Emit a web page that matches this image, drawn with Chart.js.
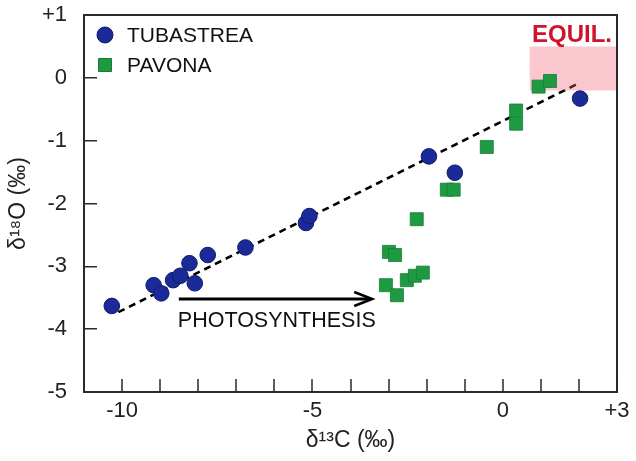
<!DOCTYPE html>
<html>
<head>
<meta charset="utf-8">
<script src="https://cdn.jsdelivr.net/npm/chart.js@4/dist/chart.umd.min.js"></script>
<style>
  body { margin: 0; background: #fff; }
  #wrap { width: 636px; height: 461px; }
</style>
</head>
<body>
<div id="wrap"><canvas id="isoChart" width="636" height="461"></canvas></div>
<script>
const FONT = "'Liberation Sans', Arial, Helvetica, sans-serif";

// coral skeleton isotopes, delta13C vs delta18O (per mil)
const tubastreaC = [-10.27, -9.17, -8.97, -8.66, -8.47, -8.23, -8.09, -7.75, -6.76, -5.17, -5.08, -1.94, -1.26, 2.03];
const tubastreaO = [-3.63, -3.30, -3.43, -3.22, -3.15, -2.95, -3.27, -2.82, -2.70, -2.31, -2.20, -1.25, -1.51, -0.33];
const pavonaC = [-3.07, -2.99, -2.83, -2.78, -2.52, -2.31, -2.26, -2.10, -1.47, -1.29, -0.42, 0.35, 0.35, 0.94, 1.24];
const pavonaO = [-3.30, -2.77, -2.82, -3.46, -3.22, -3.15, -2.25, -3.10, -1.78, -1.78, -1.10, -0.73, -0.52, -0.14, -0.05];

// kinetic trend line and the equilibrium field
const trendC = [-10.1, 1.95];
const trendO = [-3.73, -0.10];
const equilC = [0.7, 3];
const equilO = [-0.2, 0.5];

// photosynthesis arrow (start, end)
const arrowC = [-8.51, -3.43];
const arrowO = -3.52;

const xLabelled = [-10, -5, 0, 3];

const blue = 'rgb(26, 42, 152)';
const green = 'rgb(30, 155, 66)';
const axisColor = '#2b2b2b';

function pts(xs, ys) {
    return xs.map((x, i) => ({ x: x, y: ys[i] }));
}

function signed(v) {
    return v > 0 ? '+' + v : '' + v;
}

const frameSide = { display: true, color: axisColor, width: 2 };

const extras = {
    id: 'extras',
    afterDatasetsDraw(chart) {
        const ctx = chart.ctx;
        const xs = chart.scales.x;
        const ys = chart.scales.y;
        const a = chart.chartArea;
        ctx.save();

        // top and right edges of the frame
        ctx.strokeStyle = axisColor;
        ctx.lineWidth = 2;
        ctx.beginPath();
        ctx.moveTo(a.left, a.top);
        ctx.lineTo(a.right, a.top);
        ctx.lineTo(a.right, a.bottom);
        ctx.stroke();

        // x ticks pointing up into the plot
        ctx.lineWidth = 1.5;
        ctx.beginPath();
        xs.ticks.forEach(t => {
            const px = Math.round(xs.getPixelForValue(t.value));
            ctx.moveTo(px, a.bottom);
            ctx.lineTo(px, a.bottom - 13);
        });
        ctx.stroke();

        // EQUIL. label above the box
        ctx.fillStyle = '#d0122c';
        ctx.font = 'bold 24px ' + FONT;
        ctx.textAlign = 'right';
        ctx.textBaseline = 'alphabetic';
        ctx.fillText('EQUIL.', xs.getPixelForValue(equilC[1]) - 5, ys.getPixelForValue(equilO[1]) - 4);

        // photosynthesis arrow
        const x0 = xs.getPixelForValue(arrowC[0]);
        const x1 = xs.getPixelForValue(arrowC[1]);
        const y0 = ys.getPixelForValue(arrowO);
        ctx.strokeStyle = '#000';
        ctx.lineWidth = 3;
        ctx.beginPath();
        ctx.moveTo(x0, y0);
        ctx.lineTo(x1 - 1, y0);
        ctx.stroke();
        ctx.lineWidth = 2.5;
        ctx.beginPath();
        ctx.moveTo(x1 - 18, y0 - 7);
        ctx.lineTo(x1, y0);
        ctx.lineTo(x1 - 18, y0 + 7);
        ctx.stroke();
        ctx.fillStyle = '#111';
        ctx.font = '21.5px ' + FONT;
        ctx.textAlign = 'left';
        ctx.textBaseline = 'middle';
        ctx.fillText('PHOTOSYNTHESIS', x0 - 1, y0 + 22);

        // legend in the upper left corner
        const items = chart.data.datasets.filter(d => d.label);
        items.forEach((d, i) => {
            const cy = a.top + 20 + i * 30;
            const cx = a.left + 21;
            ctx.fillStyle = d.backgroundColor;
            ctx.strokeStyle = d.borderColor;
            ctx.lineWidth = 1;
            ctx.beginPath();
            if (d.pointStyle === 'rect') {
                ctx.rect(cx - 6.5, cy - 6.5, 13, 13);
            } else {
                ctx.arc(cx, cy, 8, 0, Math.PI * 2);
            }
            ctx.fill();
            ctx.stroke();
            ctx.fillStyle = '#111';
            ctx.font = '21px ' + FONT;
            ctx.textAlign = 'left';
            ctx.textBaseline = 'middle';
            ctx.fillText(d.label, a.left + 43, cy + 1);
        });
        ctx.restore();
    }
};

new Chart(document.getElementById('isoChart'), {
    type: 'scatter',
    data: {
        datasets: [
            {
                label: 'TUBASTREA',
                data: pts(tubastreaC, tubastreaO),
                pointStyle: 'circle',
                pointRadius: 7.8,
                backgroundColor: blue,
                borderColor: 'rgb(16, 26, 105)',
                borderWidth: 1,
                clip: false,
                order: 0
            },
            {
                label: 'PAVONA',
                data: pts(pavonaC, pavonaO),
                pointStyle: 'rect',
                pointRadius: 9.2,
                backgroundColor: green,
                borderColor: 'rgb(22, 125, 52)',
                borderWidth: 0.8,
                clip: false,
                order: 1
            },
            {
                type: 'line',
                data: pts(equilC, [equilO[1], equilO[1]]),
                fill: { value: equilO[0] },
                backgroundColor: 'rgba(236, 92, 108, 0.34)',
                borderWidth: 0,
                pointRadius: 0,
                order: 2
            },
            {
                type: 'line',
                data: pts(trendC, trendO),
                borderColor: '#000',
                borderWidth: 2.6,
                borderDash: [7, 5],
                pointRadius: 0,
                fill: false,
                order: 3
            }
        ]
    },
    options: {
        responsive: false,
        animation: false,
        layout: { padding: { left: 0, right: 19, top: 15, bottom: 0 } },
        plugins: {
            legend: { display: false },
            tooltip: { enabled: false }
        },
        scales: {
            x: {
                type: 'linear',
                position: 'bottom',
                min: -11,
                max: 3,
                grid: { display: true, drawOnChartArea: false, drawTicks: false },
                border: frameSide,
                ticks: {
                    stepSize: 1,
                    padding: 6,
                    color: '#222',
                    font: { family: FONT, size: 22 },
                    maxRotation: 0,
                    autoSkip: false,
                    callback: v => xLabelled.includes(v) ? signed(v) : ''
                },
                title: {
                    display: true,
                    text: 'δ¹³C (‰)',
                    color: '#222',
                    font: { family: FONT, size: 23 },
                    padding: { top: 0, bottom: 7 }
                },
                afterFit: s => { s.height = 69; }
            },
            y: {
                type: 'linear',
                position: 'left',
                min: -5,
                max: 1,
                // negative tick length turns the marks inward; padding makes up for it
                grid: { display: true, drawOnChartArea: false, drawTicks: true, tickLength: -13, color: axisColor, lineWidth: 1.5 },
                border: frameSide,
                ticks: {
                    stepSize: 1,
                    padding: 30,
                    color: '#222',
                    font: { family: FONT, size: 22 },
                    callback: v => signed(v)
                },
                title: {
                    display: true,
                    text: 'δ¹⁸O (‰)',
                    color: '#222',
                    font: { family: FONT, size: 23 },
                    padding: { top: 5, bottom: 0 }
                },
                afterFit: s => { s.width = 84; s.paddingTop = 0; s.paddingBottom = 0; }
            }
        }
    },
    plugins: [extras]
});
</script>
</body>
</html>
